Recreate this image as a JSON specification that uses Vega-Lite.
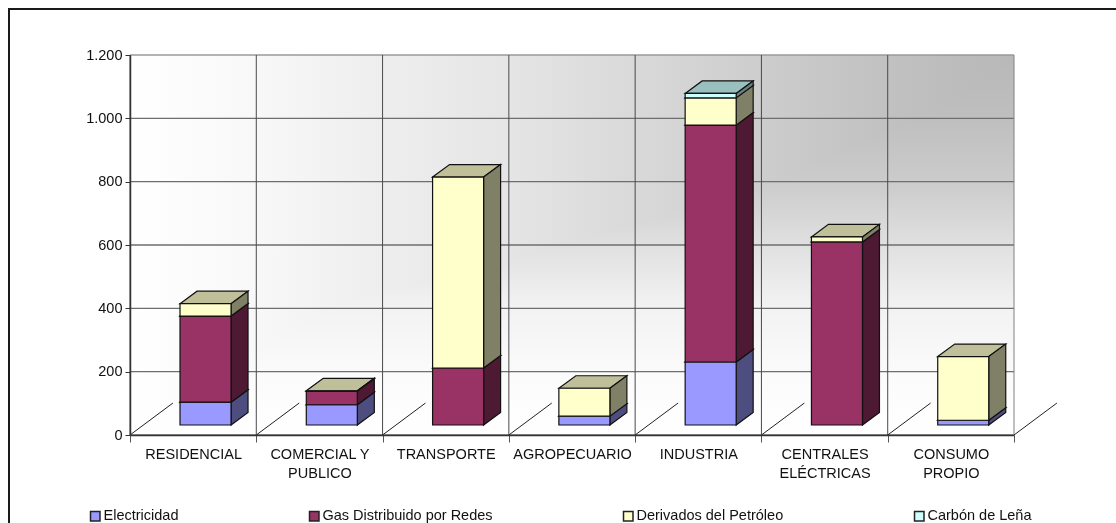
{
  "$schema": "https://vega.github.io/schema/vega-lite/v6.json",
  "width": 884,
  "height": 380,
  "autosize": {"type": "none"},
  "padding": {"left": 130, "top": 55, "right": 102, "bottom": 88},
  "background": "white",
  "view": {
    "stroke": null,
    "fill": {
      "gradient": "linear",
      "x1": 0, "y1": 0, "x2": 1, "y2": 0,
      "stops": [
        {"offset": 0, "color": "#ffffff"},
        {"offset": 0.143, "color": "#f8f8f8"},
        {"offset": 0.286, "color": "#eeeeee"},
        {"offset": 0.429, "color": "#e5e5e5"},
        {"offset": 0.571, "color": "#d9d9d9"},
        {"offset": 0.714, "color": "#cdcdcd"},
        {"offset": 0.857, "color": "#c1c1c1"},
        {"offset": 1, "color": "#b8b8b8"}
      ]
    }
  },
  "config": {
    "font": "Liberation Sans",
    "axis": {"labelFont": "Liberation Sans", "labelFontSize": 14.5, "labelColor": "#111111", "title": null},
    "legend": {"labelFont": "Liberation Sans", "labelFontSize": 14.5, "labelColor": "#111111"}
  },
  "datasets": {
    "consumo": [
      {"categoria": "RESIDENCIAL", "fuente": "Electricidad", "valor": 72},
      {"categoria": "RESIDENCIAL", "fuente": "Gas Distribuido por Redes", "valor": 272},
      {"categoria": "RESIDENCIAL", "fuente": "Derivados del Petróleo", "valor": 39},
      {"categoria": "COMERCIAL Y PUBLICO", "fuente": "Electricidad", "valor": 64},
      {"categoria": "COMERCIAL Y PUBLICO", "fuente": "Gas Distribuido por Redes", "valor": 43},
      {"categoria": "COMERCIAL Y PUBLICO", "fuente": "Derivados del Petróleo", "valor": 1},
      {"categoria": "TRANSPORTE", "fuente": "Gas Distribuido por Redes", "valor": 180},
      {"categoria": "TRANSPORTE", "fuente": "Derivados del Petróleo", "valor": 603},
      {"categoria": "AGROPECUARIO", "fuente": "Electricidad", "valor": 28},
      {"categoria": "AGROPECUARIO", "fuente": "Derivados del Petróleo", "valor": 88},
      {"categoria": "INDUSTRIA", "fuente": "Electricidad", "valor": 199},
      {"categoria": "INDUSTRIA", "fuente": "Gas Distribuido por Redes", "valor": 748},
      {"categoria": "INDUSTRIA", "fuente": "Derivados del Petróleo", "valor": 86},
      {"categoria": "INDUSTRIA", "fuente": "Carbón de Leña", "valor": 14},
      {"categoria": "CENTRALES ELÉCTRICAS", "fuente": "Gas Distribuido por Redes", "valor": 578},
      {"categoria": "CENTRALES ELÉCTRICAS", "fuente": "Derivados del Petróleo", "valor": 16},
      {"categoria": "CONSUMO PROPIO", "fuente": "Electricidad", "valor": 15},
      {"categoria": "CONSUMO PROPIO", "fuente": "Derivados del Petróleo", "valor": 201}
    ],
    "categorias": [
      {"categoria": "RESIDENCIAL"},
      {"categoria": "COMERCIAL Y PUBLICO"},
      {"categoria": "TRANSPORTE"},
      {"categoria": "AGROPECUARIO"},
      {"categoria": "INDUSTRIA"},
      {"categoria": "CENTRALES ELÉCTRICAS"},
      {"categoria": "CONSUMO PROPIO"}
    ],
    "divisiones": [
      {"division": 0}, {"division": 1}, {"division": 2}, {"division": 3},
      {"division": 4}, {"division": 5}, {"division": 6}, {"division": 7}
    ],
    "marcas": [
      {"marca": 0}, {"marca": 200}, {"marca": 400}, {"marca": 600},
      {"marca": 800}, {"marca": 1000}, {"marca": 1200}
    ]
  },
  "data": {"name": "consumo"},
  "transform": [
    {"calculate": "indexof(['RESIDENCIAL','COMERCIAL Y PUBLICO','TRANSPORTE','AGROPECUARIO','INDUSTRIA','CENTRALES ELÉCTRICAS','CONSUMO PROPIO'], datum.categoria)", "as": "c"},
    {"calculate": "indexof(['Electricidad','Gas Distribuido por Redes','Derivados del Petróleo','Carbón de Leña'], datum.fuente)", "as": "capa"},
    {"stack": "valor", "groupby": ["categoria"], "sort": [{"field": "capa", "order": "ascending"}], "as": ["v0", "v1"]},
    {"calculate": "datum.v0 + 31.6", "as": "b0"},
    {"calculate": "datum.v1 + 31.6", "as": "b1"},
    {"calculate": "datum.c + 0.396", "as": "xl"},
    {"calculate": "datum.c + 0.8", "as": "xr"},
    {"calculate": "datum.categoria + '|' + datum.fuente", "as": "bloque"}
  ],
  "layer": [
    {
      "description": "Frame of the chart, open on the sides cut by the window",
      "data": {"values": [{"marco": 1}]},
      "transform": [],
      "mark": {"type": "rect", "fill": null, "stroke": "#1a1a1a", "strokeWidth": 2, "clip": false},
      "encoding": {
        "x": {"value": -121},
        "x2": {"value": 1200},
        "y": {"value": -46},
        "y2": {"value": 700}
      }
    },
    {
      "description": "Vertical shading of the wall; lighten keeps the paler of it and the horizontal fill, which gives the corner gradient",
      "data": {"values": [{"pared": 1}]},
      "transform": [],
      "mark": {
        "type": "rect",
        "blend": "lighten",
        "color": {
          "gradient": "linear",
          "x1": 0, "y1": 0, "x2": 0, "y2": 1,
          "stops": [
            {"offset": 0, "color": "#b8b8b8"},
            {"offset": 0.17, "color": "#bfbfbf"},
            {"offset": 0.34, "color": "#cccccc"},
            {"offset": 0.5, "color": "#e0e0e0"},
            {"offset": 0.66, "color": "#f2f2f2"},
            {"offset": 0.84, "color": "#fbfbfb"},
            {"offset": 1, "color": "#ffffff"}
          ]
        }
      },
      "encoding": {
        "x": {"datum": 0, "type": "quantitative", "scale": {"domain": [0, 7], "nice": false, "zero": false}, "axis": null},
        "x2": {"datum": 7},
        "y": {"datum": 0, "type": "quantitative", "scale": {"domain": [0, 1200], "nice": false}, "axis": null},
        "y2": {"datum": 1200}
      }
    },
    {
      "description": "Hosts both axes",
      "data": {"name": "categorias"},
      "transform": [],
      "mark": {"type": "bar", "opacity": 0},
      "encoding": {
        "x": {
          "field": "categoria",
          "type": "nominal",
          "sort": null,
          "scale": {"type": "band", "paddingInner": 0, "paddingOuter": 0},
          "axis": {
            "tickBand": "extent",
            "grid": false,
            "zindex": 1,
            "domainColor": "#333333",
            "domainWidth": 1.5,
            "tickColor": "#555555",
            "tickWidth": 1,
            "tickSize": 7,
            "labelAngle": 0,
            "labelPadding": 5,
            "labelBaseline": "top",
            "labelLineHeight": 19,
            "labelOverlap": false,
            "labelExpr": "!datum.value ? '' : datum.value == 'COMERCIAL Y PUBLICO' ? ['COMERCIAL Y', 'PUBLICO'] : split(datum.value, ' ')"
          }
        },
        "y": {
          "datum": 0,
          "type": "quantitative",
          "scale": {"domain": [0, 1200], "nice": false},
          "axis": {
            "values": [0, 200, 400, 600, 800, 1000, 1200],
            "grid": false,
            "zindex": 1,
            "domainColor": "#333333",
            "domainWidth": 1.5,
            "tickColor": "#333333",
            "tickSize": 5,
            "labelPadding": 3,
            "labelExpr": "replace(format(datum.value, ','), ',', '.')"
          }
        }
      }
    },
    {
      "description": "Horizontal grid lines",
      "data": {"name": "marcas"},
      "transform": [],
      "mark": {"type": "rule", "strokeWidth": 1.4},
      "encoding": {
        "y": {"field": "marca", "type": "quantitative", "scale": {"domain": [0, 1200], "nice": false}, "axis": null},
        "color": {"condition": {"test": "datum.marca == 1200", "value": "#9a9a9a"}, "value": "#6e6e6e"}
      }
    },
    {
      "description": "Vertical grid lines at the category divisions",
      "data": {"name": "divisiones"},
      "transform": [],
      "mark": {"type": "rule", "strokeWidth": 1},
      "encoding": {
        "x": {"field": "division", "type": "quantitative", "scale": {"domain": [0, 7], "nice": false, "zero": false}, "axis": null},
        "color": {"condition": {"test": "datum.division == 7", "value": "#808080"}, "value": "#4a4a4a"}
      }
    },
    {
      "description": "Floor lines running back from each category division",
      "data": {"name": "divisiones"},
      "transform": [
        {"calculate": "datum.division + 0.34", "as": "fin"},
        {"calculate": "0", "as": "suelo0"},
        {"calculate": "101", "as": "suelo1"}
      ],
      "mark": {"type": "rule", "color": "#222222", "strokeWidth": 1},
      "encoding": {
        "x": {"field": "division", "type": "quantitative", "scale": {"domain": [0, 7], "nice": false, "zero": false}, "axis": null},
        "x2": {"field": "fin"},
        "y": {"field": "suelo0", "type": "quantitative", "scale": {"domain": [0, 1200], "nice": false}, "axis": null},
        "y2": {"field": "suelo1"}
      }
    },
    {
      "description": "Top faces of the blocks",
      "transform": [
        {"calculate": "[0, 1, 2, 3]", "as": "p"},
        {"flatten": ["p"]},
        {"calculate": "[datum.xl, datum.xl + 0.1346, datum.xr, datum.xr + 0.1346][datum.p]", "as": "tx"},
        {"calculate": "datum.p == 0 ? datum.b1 : datum.b1 + 39.5", "as": "ty"},
        {"calculate": "datum.p == 3 ? datum.b1 + 39.5 : datum.b1", "as": "ty2"}
      ],
      "mark": {"type": "area", "stroke": "#111111", "strokeWidth": 1.2, "strokeJoin": "miter", "opacity": 1},
      "encoding": {
        "x": {"field": "tx", "type": "quantitative", "scale": {"domain": [0, 7], "nice": false, "zero": false}, "axis": null},
        "y": {"field": "ty", "type": "quantitative", "stack": null, "scale": {"domain": [0, 1200], "nice": false}, "axis": null},
        "y2": {"field": "ty2"},
        "detail": {"field": "bloque"},
        "color": {
          "field": "fuente",
          "type": "nominal",
          "legend": null,
          "scale": {
            "domain": ["Electricidad", "Gas Distribuido por Redes", "Derivados del Petróleo", "Carbón de Leña"],
            "range": ["#7373bf", "#73264c", "#bfbf99", "#99bfbf"]
          }
        }
      }
    },
    {
      "description": "Right-hand side faces of the blocks",
      "transform": [
        {"calculate": "[0, 1]", "as": "p"},
        {"flatten": ["p"]},
        {"calculate": "datum.xr + datum.p * 0.1346", "as": "sx"},
        {"calculate": "datum.b1 + datum.p * 39.5", "as": "sy"},
        {"calculate": "datum.b0 + datum.p * 39.5", "as": "sy2"}
      ],
      "mark": {"type": "area", "stroke": "#111111", "strokeWidth": 1.2, "strokeJoin": "miter", "opacity": 1},
      "encoding": {
        "x": {"field": "sx", "type": "quantitative", "scale": {"domain": [0, 7], "nice": false, "zero": false}, "axis": null},
        "y": {"field": "sy", "type": "quantitative", "stack": null, "scale": {"domain": [0, 1200], "nice": false}, "axis": null},
        "y2": {"field": "sy2"},
        "detail": {"field": "bloque"},
        "color": {
          "field": "fuente",
          "type": "nominal",
          "legend": null,
          "scale": {
            "domain": ["Electricidad", "Gas Distribuido por Redes", "Derivados del Petróleo", "Carbón de Leña"],
            "range": ["#4d4d80", "#4d1933", "#808066", "#668080"]
          }
        }
      }
    },
    {
      "description": "Front faces of the blocks, which also carry the legend",
      "mark": {"type": "rect", "stroke": "#111111", "strokeWidth": 1.2},
      "encoding": {
        "x": {"field": "xl", "type": "quantitative", "scale": {"domain": [0, 7], "nice": false, "zero": false}, "axis": null},
        "x2": {"field": "xr"},
        "y": {"field": "b0", "type": "quantitative", "scale": {"domain": [0, 1200], "nice": false}, "axis": null},
        "y2": {"field": "b1"},
        "color": {
          "field": "fuente",
          "type": "nominal",
          "scale": {
            "domain": ["Electricidad", "Gas Distribuido por Redes", "Derivados del Petróleo", "Carbón de Leña"],
            "range": ["#9999ff", "#993366", "#ffffcc", "#ccffff"]
          },
          "legend": {
            "title": null,
            "orient": "none",
            "legendX": -42,
            "legendY": 454,
            "direction": "horizontal",
            "columns": 4,
            "gridAlign": "each",
            "columnPadding": 127,
            "symbolType": "square",
            "symbolSize": 90,
            "symbolStrokeColor": "#222222",
            "symbolStrokeWidth": 1.5,
            "labelOffset": 1,
            "labelLimit": 400
          }
        }
      }
    }
  ],
  "resolve": {
    "scale": {"x": "independent", "color": "independent"},
    "axis": {"x": "independent", "y": "independent"}
  }
}
